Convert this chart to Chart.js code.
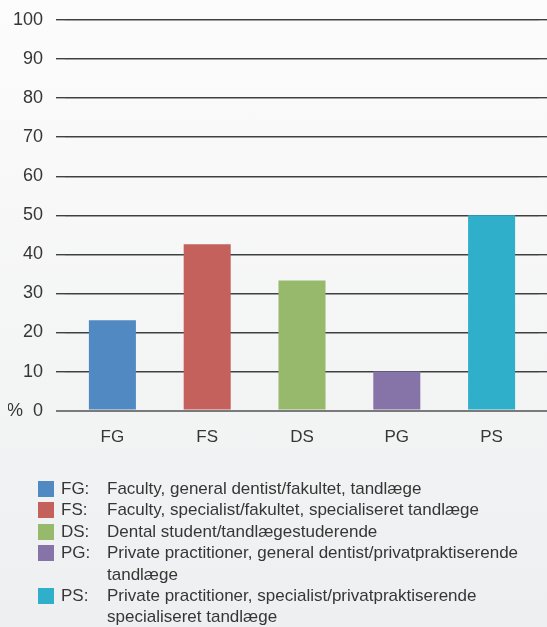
<!DOCTYPE html>
<html><head><meta charset="utf-8">
<script src="https://cdn.jsdelivr.net/npm/chart.js@4.4.1/dist/chart.umd.min.js"></script>
<style>
html,body{margin:0;padding:0;}
body{width:547px;height:627px;overflow:hidden;position:relative;background:linear-gradient(#fcfcfc,#eeeff0);font-family:"Liberation Sans",Arial,sans-serif;color:#363636;}
#c{position:absolute;left:0;top:0;}
#legend{position:absolute;left:38px;top:478px;font-size:17px;line-height:21.4px;}
.row{position:relative;padding-left:69px;white-space:pre-line;}
.box{position:absolute;left:0;top:3px;width:16px;height:16px;}
.code{position:absolute;left:23px;top:0;}
</style></head>
<body>
<canvas id="c" width="547" height="627"></canvas>
<div id="legend"></div>
<script>
const categories = ['FG', 'FS', 'DS', 'PG', 'PS'];
const values = [23.1, 42.6, 33.3, 10.0, 50.0];
const colors = ['#5189c3', '#c5615c', '#96b96b', '#8674a8', '#30afcb'];
const descriptions = [
  'Faculty, general dentist/fakultet, tandlæge',
  'Faculty, specialist/fakultet, specialiseret tandlæge',
  'Dental student/tandlægestuderende',
  'Private practitioner, general dentist/privatpraktiserende\ntandlæge',
  'Private practitioner, specialist/privatpraktiserende\nspecialiseret tandlæge'
];
const yTicks = [0, 10, 20, 30, 40, 50, 60, 70, 80, 90, 100];
const zeroLabel = '%  0';

const gridColor = ctx => (ctx.tick && ctx.tick.value === 0) ? '#7a7a7a' : '#404040';
const gridWidth = ctx => (ctx.tick && ctx.tick.value === 0) ? 2 : 1.4;

new Chart(document.getElementById('c'), {
  type: 'bar',
  data: {
    labels: categories,
    datasets: [{
      data: values,
      backgroundColor: colors,
      borderWidth: 0,
      categoryPercentage: 1,
      barPercentage: 0.496
    }]
  },
  options: {
    responsive: false,
    animation: false,
    events: [],
    layout: { padding: { left: 8, right: 0, top: 20, bottom: 162 } },
    plugins: { legend: { display: false }, tooltip: { enabled: false } },
    scales: {
      x: {
        grid: { display: false, drawTicks: false },
        border: { display: false },
        ticks: { color: '#363636', padding: 17, font: { family: 'Liberation Sans', size: 17 } }
      },
      y: {
        min: yTicks[0], max: yTicks[yTicks.length - 1],
        afterBuildTicks: s => { s.ticks = yTicks.map(v => ({ value: v })); },
        afterFit: s => { s.width = 57; s.paddingTop = 0; s.paddingBottom = 0; },
        grid: { color: gridColor, lineWidth: gridWidth, drawTicks: true, tickLength: 9 },
        border: { display: false },
        ticks: {
          padding: 13, color: '#363636',
          font: { family: 'Liberation Sans', size: 18 },
          callback: v => v === 0 ? zeroLabel : String(v)
        }
      },
      yRight: {
        position: 'right',
        min: yTicks[0], max: yTicks[yTicks.length - 1],
        afterBuildTicks: s => { s.ticks = yTicks.map(v => ({ value: v })); },
        afterFit: s => { s.width = 8; s.paddingTop = 0; s.paddingBottom = 0; },
        grid: { color: gridColor, lineWidth: gridWidth, drawOnChartArea: false, drawTicks: true, tickLength: 8 },
        border: { display: false },
        ticks: { display: false }
      }
    }
  }
});

const legend = document.getElementById('legend');
categories.forEach((c, i) => {
  const row = document.createElement('div');
  row.className = 'row';
  const box = document.createElement('span');
  box.className = 'box';
  box.style.background = colors[i];
  const code = document.createElement('span');
  code.className = 'code';
  code.textContent = c + ':';
  row.appendChild(box);
  row.appendChild(code);
  row.appendChild(document.createTextNode(descriptions[i]));
  legend.appendChild(row);
});
</script>
</body></html>
